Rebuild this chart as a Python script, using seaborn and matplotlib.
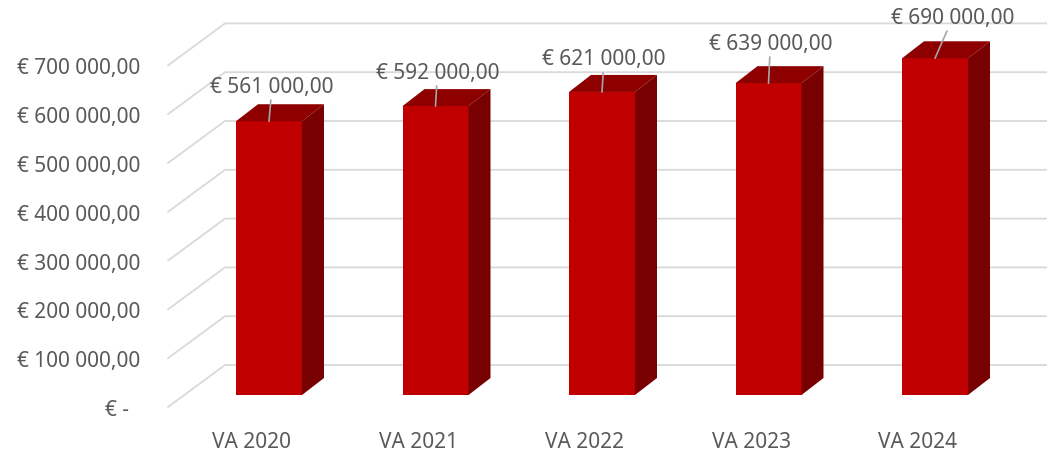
"""
Yearly VA amounts - 3D-style column chart (Excel look) rebuilt with seaborn.
"""

import pandas as pd
import matplotlib.pyplot as plt
import matplotlib.transforms as mtransforms
import seaborn as sns
from matplotlib.patches import Polygon


# ──────────────────────────────────────────────
# Data
# ──────────────────────────────────────────────

categories = ["VA 2020", "VA 2021", "VA 2022", "VA 2023", "VA 2024"]
values = [561000, 592000, 621000, 639000, 690000]
y_ticks = [0, 100000, 200000, 300000, 400000, 500000, 600000, 700000]

# where each data label sits relative to its bar top (pixels, dx / dy)
label_offsets = [(3, 35), (2, 34), (2, 33), (2, 40), (18, 41)]


# ──────────────────────────────────────────────
# Style
# ──────────────────────────────────────────────

FRONT = "#C00000"
TOP = "#8E0000"
SIDE = "#780000"
GRID = "#D9D9D9"
TEXT = "#595959"
LEADER = "#A6A6A6"

W, H, DPI = 1047, 452, 100

# pixel geometry of the fake 3D scene
AX_LEFT, AX_RIGHT = 168, 1047      # axes extent (px)
AX_TOP, AX_BOTTOM = 0, 408         # axes extent (px, from top)
BAR_BASE = 396                     # px row of the bar bottoms
FIRST_CENTER, SLOT = 269, 166.5    # px of first bar centre, px per category
PX_PER_UNIT = 48.8 / 100000        # px per euro
WALL_DX, WALL_DY = 57, 42          # front grid end -> back wall
DEPTH_DX, DEPTH_DY = 22, 17        # bar depth
CAT_SHIFT = -17                    # category labels sit on the projected floor edge


def fmt_euro(v):
    if v == 0:
        return "€ -  "
    return "€ " + f"{v:,.2f}".replace(",", " ").replace(".", ",")


def fmt_label(v):
    return "€ " + f"{v:,.2f}".replace(",", " ").replace(".", ",")


sns.set_theme(style="white")
plt.rcParams["font.family"] = ["Noto Sans", "DejaVu Sans"]

fig = plt.figure(figsize=(W / DPI, H / DPI), dpi=DPI)
ax = fig.add_axes([
    AX_LEFT / W,
    (H - AX_BOTTOM) / H,
    (AX_RIGHT - AX_LEFT) / W,
    (AX_BOTTOM - AX_TOP) / H,
])

df = pd.DataFrame({"category": categories, "value": values})
sns.barplot(data=df, x="category", y="value", color=FRONT, width=66 / SLOT,
            saturation=1, edgecolor="none", ax=ax, zorder=3)

# limits so the data maps to the pixel layout above
ax.set_xlim((AX_LEFT - FIRST_CENTER) / SLOT, (AX_RIGHT - FIRST_CENTER) / SLOT)
ax.set_ylim(-(AX_BOTTOM - BAR_BASE) / PX_PER_UNIT, (BAR_BASE - AX_TOP) / PX_PER_UNIT)

sx = 1 / SLOT            # data x per px
sy = 1 / PX_PER_UNIT     # data y per px

front_drop = (AX_BOTTOM - BAR_BASE) * sy
wall_x0 = ax.get_xlim()[0]
wall_x1 = wall_x0 + WALL_DX * sx
wall_rise = WALL_DY * sy - front_drop
x_end = ax.get_xlim()[1]

# floor/wall gridlines: diagonal side wall + horizontal back wall
for v in y_ticks:
    yf = v - front_drop
    yb = v + wall_rise
    ax.plot([wall_x0, wall_x1, x_end], [yf, yb, yb], color=GRID, lw=1.3,
            zorder=1, clip_on=False, solid_joinstyle="miter")

# top and side faces of each column
ddx, ddy = DEPTH_DX * sx, DEPTH_DY * sy
for p in list(ax.patches):
    x0, w, h = p.get_x(), p.get_width(), p.get_height()
    x1 = x0 + w
    top = Polygon([(x0, h), (x1, h), (x1 + ddx, h + ddy), (x0 + ddx, h + ddy)],
                  closed=True, facecolor=TOP, edgecolor="none", zorder=3)
    side = Polygon([(x1, 0), (x1, h), (x1 + ddx, h + ddy), (x1 + ddx, ddy)],
                   closed=True, facecolor=SIDE, edgecolor="none", zorder=3)
    ax.add_patch(top)
    ax.add_patch(side)

# data labels with leader lines
for i, (v, (ox, oy)) in enumerate(zip(values, label_offsets)):
    ax.annotate(fmt_label(v), xy=(i, v), xytext=(ox, oy),
                textcoords="offset pixels", ha="center", va="center",
                fontsize=15, color=TEXT, zorder=5,
                arrowprops=dict(arrowstyle="-", color=LEADER, lw=1.2,
                                shrinkA=0, shrinkB=0))

ax.set_yticks([v - front_drop for v in y_ticks])
ax.set_yticklabels([fmt_euro(v) for v in y_ticks])
ax.tick_params(axis="y", length=0, pad=20, labelsize=15, labelcolor=TEXT)
ax.tick_params(axis="x", length=0, pad=17, labelsize=15, labelcolor=TEXT)
ax.set_xlabel("")
ax.set_ylabel("")
sns.despine(ax=ax, left=True, bottom=True)

shift = mtransforms.ScaledTranslation(CAT_SHIFT / DPI, 0, fig.dpi_scale_trans)
for lab in ax.get_xticklabels():
    lab.set_transform(lab.get_transform() + shift)

fig.savefig("out.png", dpi=DPI)
